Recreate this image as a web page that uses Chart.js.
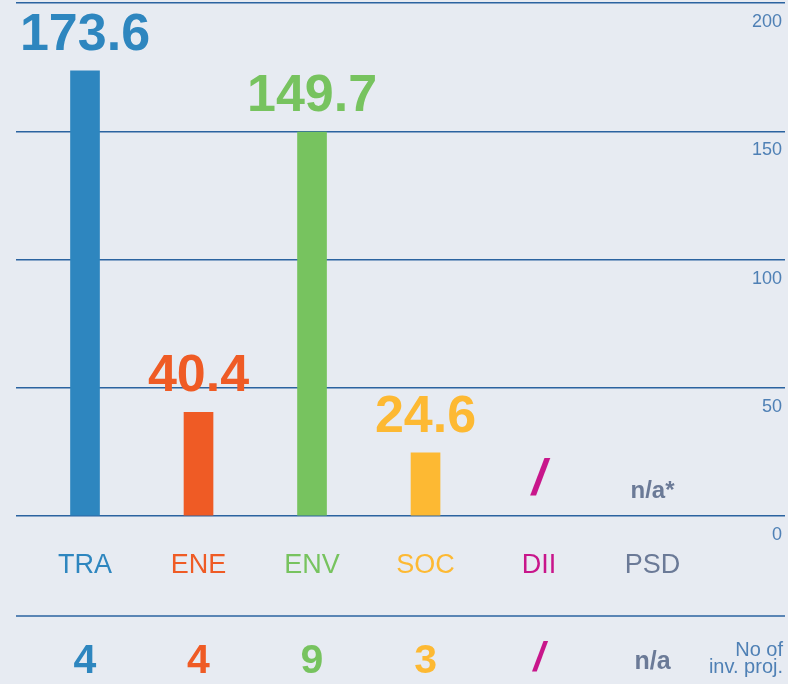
<!DOCTYPE html>
<html>
<head>
<meta charset="utf-8">
<script src="https://cdn.jsdelivr.net/npm/chart.js@4/dist/chart.umd.min.js"></script>
<style>
  body { margin: 0; background: #e7ebf2; }
  #wrap { width: 788px; height: 684px; }
</style>
</head>
<body>
<div id="wrap"><canvas id="bars" width="788" height="684"></canvas></div>
<script>
const categories = ['TRA', 'ENE', 'ENV', 'SOC', 'DII', 'PSD'];
const amounts = [173.6, 40.4, 149.7, 24.6, null, null];
const amount_labels = ['173.6', '40.4', '149.7', '24.6', '/', 'n/a*'];
const project_counts = ['4', '4', '9', '3', '/', 'n/a'];
const y_ticks = [0, 50, 100, 150, 200];
const colours = ['#2e86bf', '#ef5b25', '#77c35f', '#fdb933', '#c8168b', '#6b7a97'];

const line_colour = '#2b63a0';
const tick_colour = '#4f80b5';

// labels above bars, category names, counts row and the right-hand scale
const labels_plugin = {
    id: 'labels_plugin',
    afterDraw(chart) {
        let ctx = chart.ctx;
        let x = chart.scales.x;
        let y = chart.scales.y;
        let base = y.getPixelForValue(0);
        ctx.save();
        ctx.textAlign = 'center';
        ctx.textBaseline = 'alphabetic';

        categories.forEach((cat, i) => {
            let cx = x.getPixelForValue(i);
            ctx.fillStyle = colours[i];

            // value above the bar
            if (amounts[i] !== null) {
                ctx.font = 'bold 52px "Liberation Sans", Arial, sans-serif';
                ctx.fillText(amount_labels[i], cx, y.getPixelForValue(amounts[i]) - 21);
            } else if (amount_labels[i] === '/') {
                ctx.font = 'bold italic 50px "Liberation Sans", Arial, sans-serif';
                ctx.fillText(amount_labels[i], cx, base - 22);
            } else {
                ctx.font = 'bold 24px "Liberation Sans", Arial, sans-serif';
                ctx.fillText(amount_labels[i], cx, base - 18);
            }

            // category name
            ctx.font = '27px "Liberation Sans", Arial, sans-serif';
            ctx.fillText(cat, cx, base + 57);

            // number of projects
            if (project_counts[i] === 'n/a') {
                ctx.font = 'bold 25px "Liberation Sans", Arial, sans-serif';
                ctx.fillText(project_counts[i], cx, base + 153);
            } else if (project_counts[i] === '/') {
                ctx.font = 'bold italic 40px "Liberation Sans", Arial, sans-serif';
                ctx.fillText(project_counts[i], cx, base + 155);
            } else {
                ctx.font = 'bold 41px "Liberation Sans", Arial, sans-serif';
                ctx.fillText(project_counts[i], cx, base + 157);
            }
        });

        // y tick labels sit under their grid lines
        ctx.textAlign = 'right';
        ctx.fillStyle = tick_colour;
        ctx.font = '18px "Liberation Sans", Arial, sans-serif';
        y_ticks.forEach(t => {
            ctx.fillText(String(t), 782, y.getPixelForValue(t) + 24);
        });

        // separator above the counts row
        ctx.strokeStyle = line_colour;
        ctx.lineWidth = 1.5;
        ctx.beginPath();
        ctx.moveTo(chart.chartArea.left, base + 100);
        ctx.lineTo(chart.chartArea.right, base + 100);
        ctx.stroke();

        ctx.font = '20px "Liberation Sans", Arial, sans-serif';
        ctx.fillText('No of', 783, base + 140);
        ctx.fillText('inv. proj.', 783, base + 157);
        ctx.restore();
    }
};

let bar_canvas = document.getElementById('bars');

const bar_config = {
    type: 'bar',
    data: {
        datasets: [{
            data: categories.map((c, i) => ({ x: i, y: amounts[i] })),
            backgroundColor: colours,
            barThickness: 29,
        }]
    },
    options: {
        responsive: false,
        animation: false,
        layout: {
            padding: { left: 16, right: 3, top: 3, bottom: 168 }
        },
        plugins: {
            legend: { display: false },
            tooltip: { enabled: false }
        },
        scales: {
            x: {
                type: 'linear',
                min: -0.608,
                max: 6.167,
                offset: false,
                display: false,
            },
            y: {
                position: 'right',
                min: 0,
                max: 200,
                afterBuildTicks: (scale) => {
                    scale.ticks = y_ticks.map(v => ({ value: v }));
                },
                afterFit: (scale) => {
                    scale.width = 0;
                },
                ticks: { display: false },
                border: { display: false },
                grid: {
                    color: line_colour,
                    lineWidth: 1.5,
                    drawTicks: false,
                }
            }
        }
    },
    plugins: [labels_plugin]
};

let bar_chart = new Chart(bar_canvas, bar_config);
</script>
</body>
</html>
